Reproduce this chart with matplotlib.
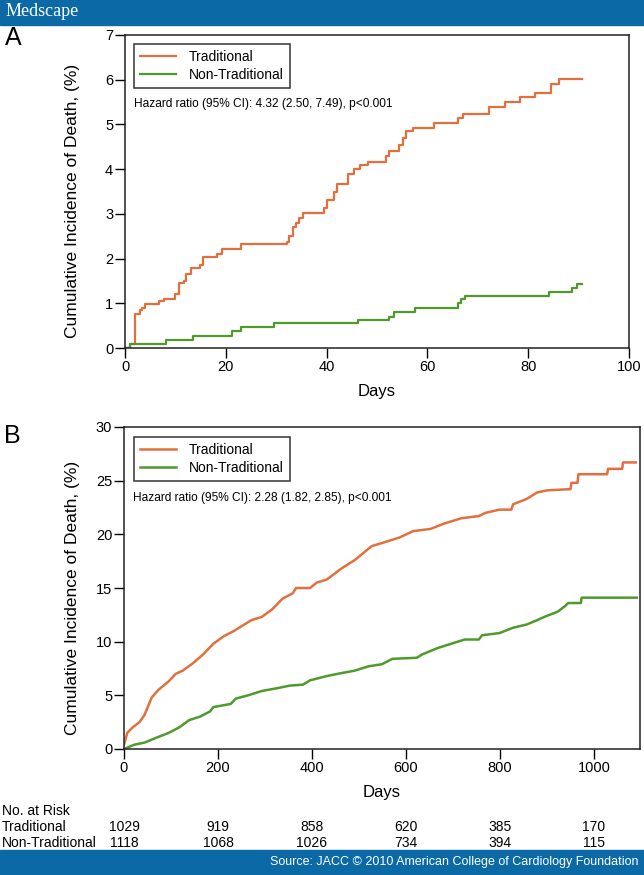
import matplotlib.pyplot as plt
import matplotlib.transforms as mtransforms

plt.rcParams['font.family'] = ['Liberation Sans', 'DejaVu Sans']

# Panel A: first 90 days (step curves)
days_a_trad = [0, 1, 2, 2.9, 3.4, 3.9, 6.8, 7.8, 10, 10.7, 11.7, 12.1, 13, 14.8, 15.5,
               18.2, 19.3, 23, 32.2, 32.6, 33.3, 34, 34.6, 35.3, 39.4, 40.1, 41.4, 42.1,
               44.2, 45.5, 46.6, 48.3, 51.7, 52.4, 54.4, 55.1, 55.8, 57.2, 61.3, 66, 67,
               72.2, 75.3, 78.3, 81.4, 84.5, 86.2, 90.6]
inc_a_trad = [0, 0.1, 0.75, 0.85, 0.9, 0.98, 1.04, 1.09, 1.2, 1.45, 1.5, 1.65, 1.8, 1.85,
              2.04, 2.1, 2.22, 2.32, 2.38, 2.5, 2.7, 2.8, 2.9, 3.01, 3.12, 3.3, 3.5, 3.67,
              3.9, 4.0, 4.09, 4.15, 4.3, 4.4, 4.55, 4.7, 4.85, 4.92, 5.04, 5.15, 5.23,
              5.4, 5.5, 5.62, 5.7, 5.91, 6.02, 6.02]
days_a_non = [0, 1, 8.2, 13.5, 21.3, 23, 29.5, 46.2, 52.4, 53.4, 57.5, 66, 66.6, 67.4,
              84.2, 88.6, 89.6, 90.6]
inc_a_non = [0, 0.1, 0.17, 0.27, 0.37, 0.47, 0.56, 0.63, 0.69, 0.8, 0.9, 1.0, 1.1, 1.17,
             1.25, 1.35, 1.44, 1.44]

# Panel B: full follow-up (traced outline of the curves)
days_b_trad = [0, 7, 18, 33, 44, 59, 73, 95, 110, 125, 147, 168, 190, 212, 234, 256, 271,
               293, 315, 337, 359, 366, 396, 410, 432, 462, 491, 527, 557, 586, 615, 652,
               681, 718, 755, 769, 799, 824, 828, 857, 879, 901, 945, 950, 952, 965, 967,
               1028, 1030, 1060, 1062, 1089]
inc_b_trad = [0.4, 1.5, 2.0, 2.5, 3.2, 4.8, 5.5, 6.3, 7.0, 7.3, 8.0, 8.8, 9.8, 10.5, 11.0,
              11.6, 12.0, 12.3, 13.0, 14.0, 14.5, 15.0, 15.0, 15.5, 15.8, 16.8, 17.6, 18.9,
              19.3, 19.7, 20.3, 20.5, 21.0, 21.5, 21.7, 22.0, 22.3, 22.3, 22.8, 23.3, 23.9,
              24.1, 24.2, 24.2, 24.8, 24.8, 25.6, 25.6, 26.1, 26.1, 26.7, 26.7]
days_b_non = [0, 22, 44, 66, 95, 117, 139, 161, 183, 190, 227, 238, 264, 293, 330, 352, 381,
              396, 432, 454, 491, 520, 549, 571, 623, 634, 667, 703, 725, 755, 762, 799, 828,
              857, 879, 894, 923, 938, 945, 972, 974, 1091]
inc_b_non = [0, 0.4, 0.6, 1.0, 1.5, 2.0, 2.7, 3.0, 3.5, 3.9, 4.2, 4.7, 5.0, 5.4, 5.7, 5.9,
             6.0, 6.4, 6.8, 7.0, 7.3, 7.7, 7.9, 8.4, 8.5, 8.8, 9.4, 9.9, 10.2, 10.2, 10.6,
             10.8, 11.3, 11.6, 12.0, 12.3, 12.8, 13.3, 13.6, 13.6, 14.1, 14.1]

groups = ['Traditional', 'Non-Traditional']
risk_days = [0, 200, 400, 600, 800, 1000]
risk_trad = [1029, 919, 858, 620, 385, 170]
risk_non = [1118, 1068, 1026, 734, 394, 115]

hazard_a = 'Hazard ratio (95% CI): 4.32 (2.50, 7.49), p<0.001'
hazard_b = 'Hazard ratio (95% CI): 2.28 (1.82, 2.85), p<0.001'

orange = '#e2703f'
green = '#4e9a2c'
banner = '#0b6aa6'

W, H = 644, 875
fig = plt.figure(figsize=(W / 100, H / 100), dpi=100)


def px_axes(x0, y0, x1, y1):
    return fig.add_axes([x0 / W, 1 - y1 / H, (x1 - x0) / W, (y1 - y0) / H])


def style_axes(ax, ymax, xlim, xticks, yticks, hazard, legend_top, ylab_x):
    ax.set_xlim(*xlim)
    ax.set_ylim(0, ymax)
    ax.set_xticks(xticks)
    ax.set_yticks(yticks)
    ax.tick_params(direction='out', length=7, width=1, labelsize=10.5, pad=1.5)
    for s in ax.spines.values():
        s.set_linewidth(1.1)
        s.set_color('#222222')
    ax.set_xlabel('Days', fontsize=12, labelpad=7)
    ax.set_ylabel('Cumulative Incidence of Death, (%)', fontsize=12.5)
    ax.yaxis.set_label_coords(ylab_x, 0.47)
    leg = ax.legend(loc='upper left', bbox_to_anchor=legend_top, borderaxespad=0,
                    fontsize=10, frameon=True, fancybox=False, edgecolor='black',
                    handlelength=2.6, handletextpad=0.9, borderpad=0.45,
                    labelspacing=0.25)
    leg.get_frame().set_linewidth(1.1)
    ax.text(0.017, 0.78, hazard, transform=ax.transAxes, fontsize=8.6,
            va='center', ha='left')


# panel A
ax_a = px_axes(125, 35, 629, 348)
ax_a.step(days_a_trad, inc_a_trad, where='post', color=orange, lw=1.6, label=groups[0])
ax_a.step(days_a_non, inc_a_non, where='post', color=green, lw=1.6, label=groups[1])
style_axes(ax_a, 7, (0, 100), range(0, 101, 20), range(0, 8), hazard_a,
           (9 / 504, 1 - 9 / 313), -45 / 504)

# panel B
ax_b = px_axes(124, 427, 640, 749)
ax_b.plot(days_b_trad, inc_b_trad, color=orange, lw=1.8, label=groups[0])
ax_b.plot(days_b_non, inc_b_non, color=green, lw=1.8, label=groups[1])
style_axes(ax_b, 30, (0, 1098), range(0, 1001, 200), range(0, 31, 5), hazard_b,
           (10 / 516, 1 - 10 / 322), -44 / 516)

fig.text(5 / W, 1 - 38 / H, 'A', fontsize=18, va='center', ha='left')
fig.text(4 / W, 1 - 436 / H, 'B', fontsize=18, va='center', ha='left')

# number at risk table, columns follow panel B day ticks
blend = mtransforms.blended_transform_factory(ax_b.transData, fig.transFigure)
fig.text(2 / W, 1 - 811 / H, 'No. at Risk', fontsize=10, va='center')
fig.text(2 / W, 1 - 827 / H, groups[0], fontsize=10, va='center')
fig.text(2 / W, 1 - 843 / H, groups[1], fontsize=10, va='center')
for d, t, n in zip(risk_days, risk_trad, risk_non):
    fig.text(d, 1 - 827 / H, str(t), fontsize=10, va='center', ha='center', transform=blend)
    fig.text(d, 1 - 843 / H, str(n), fontsize=10, va='center', ha='center', transform=blend)

# top and bottom banners
fig.patches.append(plt.Rectangle((0, 1 - 25 / H), 1, 25 / H, transform=fig.transFigure,
                                 color=banner, zorder=0))
fig.patches.append(plt.Rectangle((0, 0), 1, 25 / H, transform=fig.transFigure,
                                 color=banner, zorder=0))
fig.text(6 / W, 1 - 12 / H, 'Medscape', fontsize=13, color='white', va='center',
         family=['Liberation Serif', 'DejaVu Serif'])
fig.text(638 / W, 12.5 / H, 'Source: JACC \u00a9 2010 American College of Cardiology Foundation',
         fontsize=9, color='white', va='center', ha='right')

fig.savefig('out.png', dpi=100)
